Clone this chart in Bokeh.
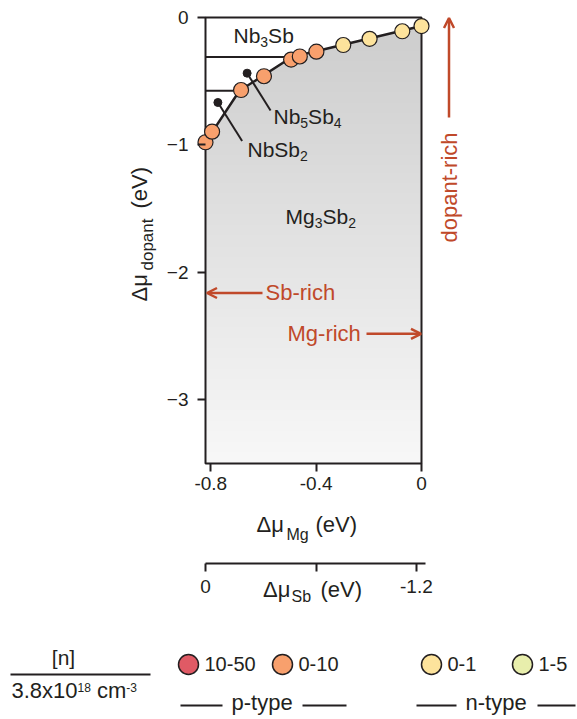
import numpy as np
from bokeh.plotting import figure
from bokeh.models import (Range1d, FixedTicker, Label, Arrow, OpenHead, LinearColorMapper,
                          LinearAxis, Grid)
from bokeh.embed import file_html
from bokeh.resources import INLINE

# ---------------- data ----------------
mg_range = (-0.82, 0.0)          # Δμ_Mg axis (eV)
dop_range = (-3.5, 0.0)          # Δμ_dopant axis (eV)
sb_range = (0.0, -1.252)         # Δμ_Sb axis (eV)

# Mg3Sb2 stability boundary against Nb-Sb phases
boundary_mg = [-0.82, -0.691, -0.492, 0.0]
boundary_dopant = [-0.978, -0.575, -0.31, -0.067]

# horizontal phase boundaries (Nb3Sb | Nb5Sb4 | NbSb2)
phase_line_dopant = [-0.31, -0.575]
phase_line_mg_end = [-0.492, -0.691]

# calculated points on the boundary and their carrier class
calc_mg = [-0.820, -0.795, -0.685, -0.598, -0.495, -0.462, -0.399, -0.297, -0.197, -0.073, 0.0]
calc_dopant = [-0.979, -0.896, -0.569, -0.461, -0.33, -0.306, -0.268, -0.216, -0.167, -0.108, -0.067]
calc_class = ["0-10"] * 7 + ["0-1"] * 4

# leader lines for phase labels (Nb5Sb4, NbSb2)
leader_start_mg = [-0.662, -0.773]
leader_start_dop = [-0.437, -0.667]
leader_end_mg = [-0.573, -0.681]
leader_end_dop = [-0.730, -0.969]

mg_ticks = [-0.8, -0.4, 0.0]
mg_tick_labels = ["-0.8", "-0.4", "0"]
dop_ticks = [0, -1, -2, -3]
dop_tick_labels = ["0", "\u22121", "\u22122", "\u22123"]
sb_ticks = [0.0, -0.63, -1.2]
sb_tick_labels = ["0", "", "-1.2"]

legend_classes = ["10-50", "0-10", "0-1", "1-5"]
legend_colors = ["#e05a65", "#f8a06d", "#fde39c", "#e8eeac"]
legend_types = ["p-type", "n-type"]

# ---------------- style / geometry ----------------
INK = "#231f20"
RED = "#c0492a"
FONT = "Liberation Sans"
W, H = 577, 719
FX0, FX1 = 205, 421      # plot box, page pixels
FY0, FY1 = 17, 463
SX0, SX1 = 205, 425      # Δμ_Sb axis extent
S_AXIS_Y = 563
MID = 0.355              # centre of capitals above the baseline (em)

CW = {' ': 278, '(': 333, ')': 333, '-': 333, '.': 278, 'M': 833, 'N': 722, 'S': 667,
      'V': 667, 'b': 556, 'd': 556, 'e': 556, 'g': 556, 'o': 556, 'p': 556, 'a': 556,
      'n': 556, 't': 278, 'c': 500, 'h': 556, 'i': 222, 'r': 333, 'y': 500, 'm': 833,
      'x': 500, '[': 278, ']': 278, '\u0394': 668, '\u03bc': 576}


def twidth(s, size):
    return sum(CW.get(ch, 556) for ch in s) * size / 1000.0


def main_xy(px, py):
    x = mg_range[0] + (px - FX0) * (mg_range[1] - mg_range[0]) / (FX1 - FX0)
    y = dop_range[1] - (py - FY0) * (dop_range[1] - dop_range[0]) / (FY1 - FY0)
    return x, y


def sb_x(px):
    return sb_range[0] + (px - SX0) * (sb_range[1] - sb_range[0]) / (SX1 - SX0)


def add_text(fig, px, py, text, size, color=INK, align="left", baseline="alphabetic", angle=0.0):
    if baseline == "alphabetic":
        # anchor on the middle of the capitals, placed from the wanted baseline
        px -= np.sin(angle) * MID * size
        py -= np.cos(angle) * MID * size
        baseline = "middle"
    x, y = main_xy(px, py)
    fig.add_layout(Label(x=x, y=y, text=text, text_font=FONT, text_font_size=f"{size}px",
                         text_color=color, text_align=align, text_baseline=baseline,
                         angle=angle))


def rich(fig, x_px, y_px, pieces, color=INK):
    """pieces: (text, size, shift_px, explicit_x_px or None)"""
    x = x_px
    for text, size, shift, ex in pieces:
        if ex is not None:
            x = ex
        lead = len(text) - len(text.lstrip(" "))
        x += twidth(" " * lead, size)
        text = text.lstrip(" ")
        add_text(fig, x, y_px + shift, text, size, color)
        x += twidth(text, size)


x0_, y0_ = main_xy(0, 0)
x1_, y1_ = main_xy(W, H)
p = figure(width=W, height=H, title=None,
           x_range=Range1d(x0_, x1_), y_range=Range1d(y1_, y0_),
           output_backend="svg", toolbar_location=None,
           x_axis_location=None, y_axis_location=None,
           min_border_left=0, min_border_right=0, min_border_top=0, min_border_bottom=0)
p.extra_x_ranges = {"sb": Range1d(sb_x(0), sb_x(W))}
p.outline_line_color = None
p.background_fill_color = "white"
p.border_fill_color = "white"
for r in list(p.center):
    if isinstance(r, Grid):
        r.visible = False


def style_axis(ax, ticks, labels, standoff):
    ax.ticker = FixedTicker(ticks=ticks)
    ax.major_label_overrides = dict(zip(ticks, labels))
    ax.major_tick_line_color = INK
    ax.major_tick_line_width = 2
    ax.major_tick_out = 8
    ax.major_tick_in = 0
    ax.minor_tick_line_color = None
    ax.major_label_text_font = FONT
    ax.major_label_text_font_size = "19px"
    ax.major_label_text_color = INK
    ax.major_label_standoff = standoff


yax = LinearAxis(fixed_location=mg_range[0], axis_line_color=None)
style_axis(yax, dop_ticks, dop_tick_labels, 9)
yax.major_label_orientation = "horizontal"
p.add_layout(yax, "left")

xax = LinearAxis(fixed_location=dop_range[0], axis_line_color=None)
style_axis(xax, mg_ticks, mg_tick_labels, 5)
p.add_layout(xax, "below")

sax = LinearAxis(fixed_location=main_xy(0, S_AXIS_Y)[1], x_range_name="sb",
                 axis_line_color=INK, axis_line_width=2, bounds=(sb_range[1], sb_range[0]))
style_axis(sax, sb_ticks, sb_tick_labels, 8)
p.add_layout(sax, "below")

# gray gradient background of the Mg3Sb2 stability region
grays = [f"#{v:02x}{v:02x}{v:02x}" for v in np.linspace(248, 205, 256).astype(int)]
cmapper = LinearColorMapper(palette=grays, low=0, high=1)
grad = np.tile(np.linspace(0, 1, 300).reshape(300, 1), (1, 2))
p.image(image=[grad], x=mg_range[0], y=dop_range[0],
        dw=mg_range[1] - mg_range[0], dh=dop_range[1] - dop_range[0], color_mapper=cmapper)

# white region above the boundary (competing Nb-Sb phases)
p.patch(x=[mg_range[0]] + boundary_mg + [mg_range[1]],
        y=[dop_range[1]] + boundary_dopant + [dop_range[1]],
        fill_color="white", line_color=None)

p.segment(x0=[mg_range[0]] * len(phase_line_dopant), y0=phase_line_dopant,
          x1=phase_line_mg_end, y1=phase_line_dopant, line_color=INK, line_width=2)

# plot box
p.quad(left=[mg_range[0]], right=[mg_range[1]], bottom=[dop_range[0]], top=[dop_range[1]],
       fill_color=None, line_color=INK, line_width=2)

p.line(boundary_mg, boundary_dopant, line_color=INK, line_width=2.5)

p.segment(x0=leader_start_mg, y0=leader_start_dop, x1=leader_end_mg, y1=leader_end_dop,
          line_color=INK, line_width=2)
p.scatter(leader_start_mg, leader_start_dop, size=8, fill_color=INK, line_color=INK)

class_color = dict(zip(legend_classes, legend_colors))
p.scatter(calc_mg, calc_dopant, size=15, fill_color=[class_color[c] for c in calc_class],
          line_color=INK, line_width=1.2)

# phase labels
rich(p, 233, 42.5, [("Nb", 21, 0, None), ("3", 14, 4, None), ("Sb", 21, 0, None)])
rich(p, 273, 123, [("Nb", 21, 0, None), ("5", 14, 4, None), ("Sb", 21, 0, None),
                   ("4", 14, 4, None)])
rich(p, 247, 156.5, [("NbSb", 21, 0, None), ("2", 14, 4, None)])
rich(p, 285, 223, [("Mg", 21, 0, None), ("3", 14, 4, None), ("Sb", 21, 0, None),
                   ("2", 14, 4, None)])

# red annotations
add_text(p, 265, 299.5, "Sb-rich", 22, RED)
add_text(p, 287, 341, "Mg-rich", 22, RED)
add_text(p, 449, 187, "dopant-rich", 22, RED, align="center", baseline="middle",
         angle=np.pi / 2)

for xs, ys, xe, ye in ((262, 292.5, 206.5, 292.5), (366, 333.3, 420.5, 333.3),
                       (448.5, 117, 448.5, 17.5)):
    ax0, ay0 = main_xy(xs, ys)
    ax1, ay1 = main_xy(xe, ye)
    p.add_layout(Arrow(x_start=ax0, y_start=ay0, x_end=ax1, y_end=ay1,
                       line_color=RED, line_width=2.5,
                       end=OpenHead(size=10, line_color=RED, line_width=2.5)))

# axis titles
rich(p, 256, 532.3, [("\u0394\u03bc", 22, 0, 256), ("Mg", 16, 7, 286), ("(eV)", 22, 0, 315)])
for text, size, bx, by in (("\u0394\u03bc", 22, 147, 301), ("dopant", 17, 153, 270),
                           ("(eV)", 22, 147, 208)):
    add_text(p, bx, by, text, size, angle=np.pi / 2)
rich(p, 262.5, 596.7, [("\u0394\u03bc", 22, 0, 262.5), ("Sb", 16, 5, 291),
                       ("(eV)", 22, 0, 320)])

# ---------------- legend ----------------
add_text(p, 63, 664, "[n]", 21, align="center")
lx0, ly = main_xy(10, 674)
lx1, _ = main_xy(150, 674)
p.segment(x0=[lx0], y0=[ly], x1=[lx1], y1=[ly], line_color=INK, line_width=2)
rich(p, 11, 698, [("3.8x10", 22, 0, None), ("18", 12, -6.5, None), (" cm", 22, 0, None),
                  ("-3", 12, -7, None)])

leg_px = [188, 282, 431, 522]
leg_pts = [main_xy(x, 664) for x in leg_px]
p.scatter([a for a, b in leg_pts], [b for a, b in leg_pts], size=20, fill_color=legend_colors,
          line_color=INK, line_width=1.5)
for lx, lab in zip(leg_px, legend_classes):
    add_text(p, lx + 16, 671, lab, 20)

for tx, lab in zip([231, 465], legend_types):
    add_text(p, tx, 710, lab, 22)
seg_px = [(180, 222), (302, 346), (416, 456), (537, 575)]
sy = main_xy(0, 705)[1]
p.segment(x0=[main_xy(a, 0)[0] for a, b in seg_px], y0=[sy] * 4,
          x1=[main_xy(b, 0)[0] for a, b in seg_px], y1=[sy] * 4,
          line_color=INK, line_width=2)

open("out.html", "w").write(file_html(p, INLINE))
